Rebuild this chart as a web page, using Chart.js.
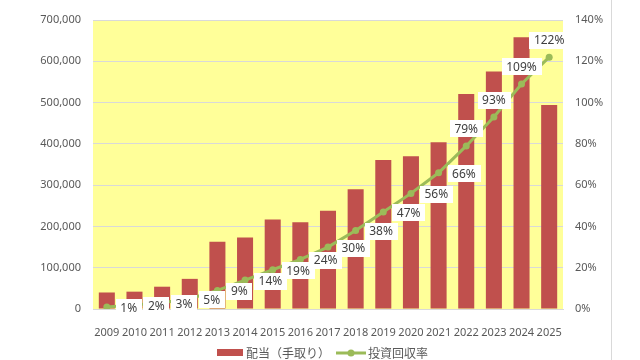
<!DOCTYPE html>
<html>
<head>
<meta charset="utf-8">
<script src="https://cdn.jsdelivr.net/npm/chart.js@4.4.0/dist/chart.umd.min.js"></script>
<style>
html,body{margin:0;padding:0;background:#ffffff;}
#wrap{width:640px;height:360px;position:relative;}
</style>
</head>
<body>
<div id="wrap"><canvas id="c" width="640" height="360"></canvas></div>
<script>
const years = ['2009','2010','2011','2012','2013','2014','2015','2016','2017','2018','2019','2020','2021','2022','2023','2024','2025'];
const dividends = [40000, 42000, 54000, 73000, 163000, 173000, 217000, 210000, 238000, 290000, 361000, 370000, 404000, 521000, 575000, 658000, 494000];
const recoveryRates = [1, 2, 3, 5, 9, 14, 19, 24, 30, 38, 47, 56, 66, 79, 93, 109, 122];
const seriesNames = ['配当（手取り）', '投資回収率'];
const leftAxisMax = 700000;
const rightAxisMax = 140;

const FONT = "'Noto Sans', 'Noto Sans CJK JP', sans-serif";
const JFONT = "'Noto Sans CJK JP', 'Noto Sans', sans-serif";
const BAR_COLOR = '#C0504D';
const LINE_COLOR = '#9BBB59';

const decorPlugin = {
  id: 'decor',
  beforeDraw(chart) {
    const {ctx, chartArea: a} = chart;
    ctx.save();
    ctx.fillStyle = '#FFFF99';
    ctx.fillRect(a.left, a.top, a.right - a.left, a.bottom - a.top);
    ctx.restore();
  },
  afterDatasetsDraw(chart) {
    const ctx = chart.ctx;
    const meta = chart.getDatasetMeta(1);
    ctx.save();
    ctx.font = '12px ' + FONT;
    ctx.textBaseline = 'middle';
    ctx.textAlign = 'center';
    meta.data.forEach((pt, i) => {
      const txt = recoveryRates[i] + '%';
      const w = ctx.measureText(txt).width;
      const bw = w + 9, bh = 17;
      let cx, cy;
      if (i < 13) {
        cx = pt.x + 9 + bw / 2;
        cy = pt.y + 1;
      } else {
        cx = pt.x;
        cy = pt.y - 17;
      }
      ctx.fillStyle = '#FFFFFF';
      ctx.fillRect(Math.round(cx - bw / 2), Math.round(cy - bh / 2), Math.round(bw), bh);
      ctx.fillStyle = '#404040';
      ctx.fillText(txt, cx, cy + 0.5);
    });
    ctx.restore();
  },
  afterDraw(chart) {
    const ctx = chart.ctx;
    ctx.save();
    // outer frame line on the right
    ctx.strokeStyle = '#D9D9D9';
    ctx.lineWidth = 1;
    ctx.beginPath();
    ctx.moveTo(611.5, 0);
    ctx.lineTo(611.5, 360);
    ctx.stroke();
    // legend
    const ly = 353;
    ctx.fillStyle = BAR_COLOR;
    ctx.fillRect(217, ly - 4, 26, 7);
    ctx.font = '12px ' + JFONT;
    ctx.textBaseline = 'middle';
    ctx.textAlign = 'left';
    ctx.fillStyle = '#595959';
    ctx.fillText(seriesNames[0], 246, ly);
    ctx.strokeStyle = LINE_COLOR;
    ctx.lineWidth = 3;
    ctx.beginPath();
    ctx.moveTo(336, ly);
    ctx.lineTo(366, ly);
    ctx.stroke();
    ctx.fillStyle = LINE_COLOR;
    ctx.beginPath();
    ctx.arc(351, ly, 3.5, 0, Math.PI * 2);
    ctx.fill();
    ctx.fillStyle = '#595959';
    ctx.fillText(seriesNames[1], 368, ly);
    ctx.restore();
  }
};

new Chart(document.getElementById('c'), {
  type: 'bar',
  data: {
    labels: years,
    datasets: [
      {
        type: 'bar',
        label: seriesNames[0],
        data: dividends,
        backgroundColor: BAR_COLOR,
        yAxisID: 'y',
        categoryPercentage: 1,
        barPercentage: 0.58,
        order: 2
      },
      {
        type: 'line',
        label: seriesNames[1],
        data: recoveryRates,
        yAxisID: 'y1',
        borderColor: LINE_COLOR,
        backgroundColor: LINE_COLOR,
        borderWidth: 3,
        pointRadius: 3.5,
        pointBorderWidth: 0,
        pointBackgroundColor: LINE_COLOR,
        tension: 0,
        order: 1
      }
    ]
  },
  options: {
    responsive: false,
    devicePixelRatio: 1,
    animation: false,
    layout: { padding: { top: 20, left: 0, right: 0, bottom: 0 } },
    plugins: {
      legend: { display: false },
      tooltip: { enabled: false }
    },
    scales: {
      x: {
        grid: { display: false },
        border: { display: true, color: '#D9D9D9' },
        ticks: { color: '#595959', font: { size: 11, family: FONT }, padding: 9, maxRotation: 0, autoSkip: false },
        afterFit(s) { s.height = 51; }
      },
      y: {
        position: 'left',
        min: 0,
        max: leftAxisMax,
        ticks: {
          stepSize: 100000,
          color: '#595959',
          font: { size: 11, family: FONT },
          padding: 12,
          callback: v => v.toLocaleString('en-US')
        },
        grid: { color: '#D9D9D9', drawTicks: false },
        border: { display: false },
        afterFit(s) { s.width = 93; }
      },
      y1: {
        position: 'right',
        min: 0,
        max: rightAxisMax,
        ticks: {
          stepSize: 20,
          color: '#595959',
          font: { size: 11, family: FONT },
          padding: 12,
          callback: v => v + '%'
        },
        grid: { display: false, drawTicks: false },
        border: { display: false },
        afterFit(s) { s.width = 77; }
      }
    }
  },
  plugins: [decorPlugin]
});
</script>
</body>
</html>
